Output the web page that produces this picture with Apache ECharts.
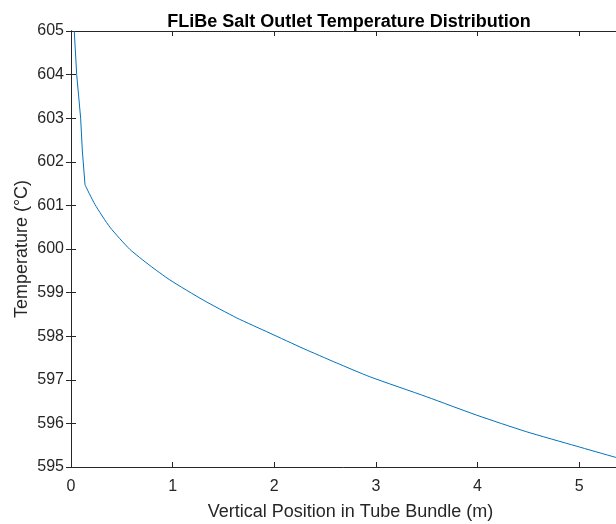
<!DOCTYPE html>
<html>
<head>
<meta charset="utf-8">
<script src="https://cdn.jsdelivr.net/npm/echarts@6/dist/echarts.min.js"></script>
<style>
  html, body { margin: 0; padding: 0; background: #fff; }
</style>
</head>
<body>
<div id="chart" style="width: 616px; height: 524px"></div>
<script>
// values
// steep entry section (straight pieces)
var entryX = [0.032, 0.056, 0.095, 0.111, 0.138]
var entryT = [605.0, 604.0, 603.0, 602.27, 601.47]
// smooth part along the rest of the bundle
var bundleX = [0.138, 0.236, 0.383, 0.58, 0.777, 0.973, 1.30, 1.63, 1.957, 2.284, 2.61, 2.94, 3.50, 3.99, 4.48, 4.97, 5.36, 5.5]
var bundleT = [601.47, 601.02, 600.50, 599.99, 599.62, 599.29, 598.83, 598.42, 598.07, 597.72, 597.39, 597.07, 596.61, 596.19, 595.81, 595.48, 595.22, 595.13]
var xTicks = [0, 1, 2, 3, 4, 5]
var yTicks = [595, 596, 597, 598, 599, 600, 601, 602, 603, 604, 605]

var chartDom = document.getElementById('chart')
var myChart = echarts.init(chartDom)
var option

var entryData = entryX.map(function (x, i) { return [x, entryT[i]] })
var bundleData = bundleX.map(function (x, i) { return [x, bundleT[i]] })
var axisColor = '#262626'
var font = 'Liberation Sans, Arial, sans-serif'

option = {
  animation: false,
  title: {
    text: 'FLiBe Salt Outlet Temperature Distribution',
    left: 344,
    textAlign: 'center',
    top: 8,
    textStyle: { fontFamily: font, fontSize: 18, fontWeight: 'bold', color: '#000' }
  },
  grid: {
    left: 71,
    top: 31,
    width: 559,
    height: 436,
    containLabel: false,
    outerBoundsMode: 'none'
  },
  xAxis: [
    {
      type: 'value',
      min: 0,
      max: 5.5,
      interval: 1,
      name: 'Vertical Position in Tube Bundle (m)',
      nameLocation: 'middle',
      nameGap: 36,
      nameMoveOverlap: false,
      nameTextStyle: { fontFamily: font, fontSize: 18, color: axisColor },
      axisLine: { show: true, lineStyle: { color: axisColor, width: 1 } },
      axisTick: { show: true, inside: true, length: 5, lineStyle: { color: axisColor } },
      axisLabel: {
        fontFamily: font, fontSize: 16, color: axisColor, margin: 12,
        showMaxLabel: false,
        formatter: function (v) { return xTicks.indexOf(v) >= 0 ? String(v) : '' }
      },
      splitLine: { show: false }
    },
    {
      type: 'value',
      position: 'top',
      min: 0,
      max: 5.5,
      interval: 1,
      axisLine: { show: true, lineStyle: { color: axisColor, width: 1 } },
      axisTick: { show: true, inside: true, length: 5, lineStyle: { color: axisColor } },
      axisLabel: { show: false },
      splitLine: { show: false }
    }
  ],
  yAxis: [
    {
      type: 'value',
      min: 595,
      max: 605,
      interval: 1,
      name: 'Temperature (°C)',
      nameLocation: 'middle',
      nameGap: 40,
      nameMoveOverlap: false,
      nameTextStyle: { fontFamily: font, fontSize: 18, color: axisColor },
      axisLine: { show: true, lineStyle: { color: axisColor, width: 1 } },
      axisTick: { show: true, inside: true, length: 5, lineStyle: { color: axisColor } },
      axisLabel: {
        fontFamily: font, fontSize: 16, color: axisColor, margin: 7,
        formatter: function (v) { return yTicks.indexOf(v) >= 0 ? String(v) : '' }
      },
      splitLine: { show: false }
    },
    {
      type: 'value',
      position: 'right',
      min: 595,
      max: 605,
      interval: 1,
      axisLine: { show: true, lineStyle: { color: axisColor, width: 1 } },
      axisTick: { show: true, inside: true, length: 5, lineStyle: { color: axisColor } },
      axisLabel: { show: false },
      splitLine: { show: false }
    }
  ],
  series: [
    {
      type: 'line',
      data: entryData,
      showSymbol: false,
      smooth: false,
      lineStyle: { color: '#0072BD', width: 1 }
    },
    {
      type: 'line',
      data: bundleData,
      showSymbol: false,
      smooth: 0.2,
      lineStyle: { color: '#0072BD', width: 1 }
    }
  ]
}

option && myChart.setOption(option)
</script>
</body>
</html>
